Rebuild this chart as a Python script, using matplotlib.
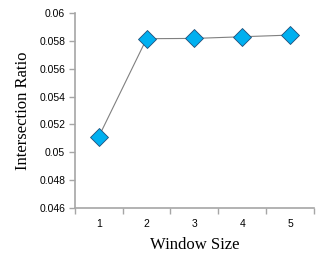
import matplotlib
matplotlib.use("Agg")
import matplotlib.pyplot as plt
from matplotlib.ticker import FixedLocator

window_size = [1, 2, 3, 4, 5]
ratio = [0.05112, 0.05816, 0.05818, 0.0583, 0.05842]
y_ticks = [0.046, 0.048, 0.05, 0.052, 0.054, 0.056, 0.058, 0.06]
y_labels = ["0.046", "0.048", "0.05", "0.052", "0.054", "0.056", "0.058", "0.06"]

fig = plt.figure(figsize=(3.27, 2.67), dpi=100)
ax = fig.add_axes([0.229, 0.221, 0.731, 0.730])

ax.plot(window_size, ratio, color="#808080", lw=0.8, marker="D", ms=9,
        mfc="#00B0F0", mec="#1f4e79", mew=0.6, zorder=3)

ax.set_xlim(0.5, 5.5)
ax.set_ylim(0.046, 0.06)
ax.set_yticks(y_ticks)
ax.set_yticklabels(y_labels)
ax.set_xticks(window_size)
ax.set_xticklabels([str(w) for w in window_size])
ax.xaxis.set_minor_locator(FixedLocator([0.5, 1.5, 2.5, 3.5, 4.5, 5.5]))
ax.tick_params(axis="x", which="major", length=0, pad=8)
ax.tick_params(axis="x", which="minor", length=4, color="#a6a6a6", width=1)
ax.tick_params(axis="y", length=4, color="#a6a6a6", width=1, pad=3)
for lab in ax.get_xticklabels() + ax.get_yticklabels():
    lab.set_fontsize(7.5)
    lab.set_family("Liberation Sans")

for side in ["top", "right"]:
    ax.spines[side].set_visible(False)
for side in ["left", "bottom"]:
    ax.spines[side].set_color("#a6a6a6")
    ax.spines[side].set_linewidth(1.2)

ax.set_xlabel("Window Size", family="Liberation Serif", fontsize=12, labelpad=6)
ax.set_ylabel("Intersection Ratio", family="Liberation Serif", fontsize=12, labelpad=6)

fig.savefig("out.png", dpi=100)
